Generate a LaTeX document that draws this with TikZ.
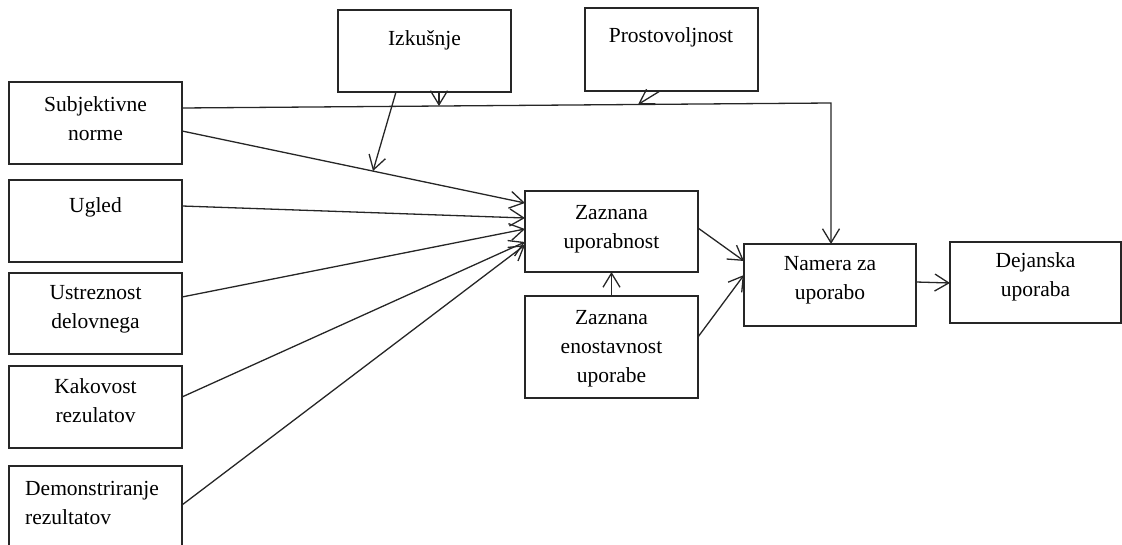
\documentclass[tikz,border=0pt]{standalone}
\usepackage{fontspec}
\setmainfont{Liberation Serif}
\usetikzlibrary{arrows.meta}

\begin{document}
\begin{tikzpicture}[x=1pt,y=-1pt,
  box/.style={draw=black!85, line width=1.4pt, rectangle, inner sep=0pt, outer sep=0pt,
              minimum width=173pt, minimum height=82pt},
  lbl/.style={anchor=base, inner sep=0pt, align=center,
              font=\fontsize{21.5}{29}\selectfont, text=black},
  conn/.style={draw=black!85, line width=1.3pt},
  arr/.style={conn, -{Straight Barb[length=14pt,width=17pt]}}]
\useasboundingbox (0,0) rectangle (1122,545);

% boxes
\node[box] (izk) at (424.5,51) {};
\node[box, minimum height=83pt] (pro) at (671.5,49.5) {};
\node[box] (sub) at (95.5,123) {};
\node[box] (ugl) at (95.5,221) {};
\node[box, minimum height=81pt] (ust) at (95.5,313.5) {};
\node[box] (kak) at (95.5,407) {};
\node[box] (dem) at (95.5,507) {};
\node[box, minimum height=81pt] (zu) at (611.5,231.5) {};
\node[box, minimum height=102pt] (ze) at (611.5,347) {};
\node[box, minimum width=172pt] (nam) at (830,285) {};
\node[box, minimum width=171pt, minimum height=81pt] (dej) at (1035.5,282.5) {};

% labels (base anchor sits on the last line's baseline)
\node[lbl] (izkt) at (424.5,46) {Izkušnje};
\node[lbl] (prot) at (671,43) {Prostovoljnost};
\node[lbl] (subt) at (95.5,141) {Subjektivne\\norme};
\node[lbl] (uglt) at (95.5,213) {Ugled};
\node[lbl] (ustt) at (95.5,329) {Ustreznost\\delovnega};
\node[lbl] (kakt) at (95.5,422) {Kakovost\\rezulatov};
\node[lbl, anchor=base west, align=left] (demt) at (25,524) {Demonstriranje\\rezultatov};
\node[lbl] (zut) at (611.5,249) {Zaznana\\uporabnost};
\node[lbl] (zet) at (611.5,382) {Zaznana\\enostavnost\\uporabe};
\node[lbl] (namt) at (830,300) {Namera za\\uporabo};
\node[lbl] (dejt) at (1035.5,297) {Dejanska\\uporaba};

% subjective norms to intention, running above the usefulness box
\coordinate (corner) at (831,103);
\draw[arr] ([yshift=15pt]sub.east) -- (corner) -- (nam.north -| corner);

% moderators acting on the upper path
\coordinate (izkhit) at (439,106);
\coordinate (prohit) at (638,104.5);
\coordinate (izkhit2) at (373,171);
\draw[arr] ([xshift=14.5pt]izk.south) -- (izkhit);
\draw[arr] ([xshift=-11.5pt]pro.south) -- (prohit);
\draw[arr] ([xshift=-28.5pt]izk.south) -- (izkhit2);

% determinants of perceived usefulness
\draw[arr] ([yshift=-8pt]sub.east) -- ([yshift=28.5pt]zu.west);
\draw[arr] ([yshift=15pt]ugl.east) -- ([yshift=13.5pt]zu.west);
\draw[arr] ([yshift=16.5pt]ust.east) -- ([yshift=2.5pt]zu.west);
\draw[arr] ([yshift=10pt]kak.east) -- ([yshift=-10.5pt]zu.west);
\draw[arr] ([yshift=2pt]dem.east) -- ([yshift=-13.5pt]zu.west);

% core model
\draw[arr] (ze.north) -- (zu.south);
\draw[arr] ([yshift=3.5pt]zu.east) -- ([yshift=24pt]nam.west);
\draw[arr] ([yshift=10pt]ze.east) -- ([yshift=10pt]nam.west);
\draw[arr] ([yshift=3pt]nam.east) -- ([yshift=-0.5pt]dej.west);
\end{tikzpicture}
\end{document}
